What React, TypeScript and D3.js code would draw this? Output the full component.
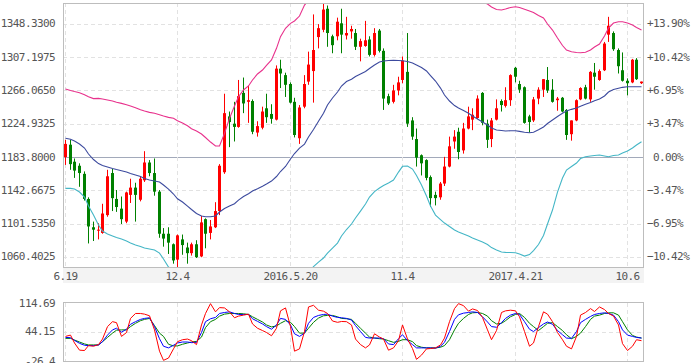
import React, { useEffect, useRef } from 'react';
import * as d3 from 'd3';

// weekly candles, 2015.6.19 .. 2017.10.27
const openP = [
  1183.8, 1199, 1178, 1173, 1163, 1132, 1097, 1093, 1090, 1112,
  1164, 1132, 1120, 1104, 1137, 1146, 1131, 1155, 1177, 1164,
  1141, 1089, 1089, 1076, 1057, 1082, 1072, 1065, 1076, 1061,
  1107, 1090, 1097, 1117, 1165, 1234, 1225, 1221, 1263, 1252,
  1253, 1214, 1220, 1244, 1237, 1230, 1293, 1285, 1274, 1252,
  1207, 1246, 1277, 1290, 1332, 1341, 1367, 1333, 1333, 1349,
  1334, 1339, 1337, 1320, 1321, 1329, 1310, 1340, 1315, 1259,
  1252, 1266, 1279, 1289, 1229, 1206, 1186, 1180, 1159, 1137,
  1134, 1151, 1172, 1203, 1215, 1192, 1219, 1230, 1232, 1263,
  1225, 1206, 1230, 1253, 1247, 1254, 1294, 1274, 1270, 1234,
  1229, 1256, 1267, 1279, 1267, 1254, 1257, 1242, 1212, 1229,
  1255, 1270, 1255, 1288, 1279, 1291, 1335, 1337, 1316, 1291,
  1278, 1276, 1304, 1275,
];
const highP = [
  1205, 1205, 1182, 1176, 1166, 1134, 1104, 1102, 1126, 1168,
  1169, 1143, 1135, 1141, 1157, 1152, 1160, 1191, 1180, 1182,
  1143, 1096, 1097, 1077, 1088, 1088, 1078, 1078, 1081, 1111,
  1108, 1106, 1128, 1175, 1262, 1240, 1252, 1279, 1282, 1272,
  1255, 1228, 1246, 1262, 1249, 1297, 1304, 1288, 1276, 1257,
  1248, 1285, 1314, 1360, 1348, 1375, 1371, 1335, 1356, 1367,
  1357, 1346, 1342, 1330, 1352, 1333, 1343, 1342, 1318, 1262,
  1273, 1283, 1308, 1337, 1233, 1219, 1187, 1181, 1161, 1141,
  1153, 1184, 1209, 1217, 1220, 1226, 1246, 1244, 1260, 1264,
  1230, 1232, 1255, 1255, 1270, 1286, 1295, 1278, 1271, 1236,
  1258, 1270, 1280, 1295, 1280, 1258, 1258, 1243, 1229, 1255,
  1270, 1273, 1290, 1300, 1292, 1326, 1357, 1339, 1318, 1313,
  1281, 1305, 1306, 1277,
];
const lowP = [
  1174, 1168, 1158, 1147, 1130, 1077, 1080, 1082, 1089, 1110,
  1117, 1116, 1101, 1102, 1127, 1104, 1129, 1153, 1160, 1136,
  1084, 1073, 1064, 1052, 1047, 1063, 1052, 1062, 1059, 1060,
  1071, 1082, 1096, 1112, 1163, 1196, 1203, 1220, 1238, 1226,
  1212, 1209, 1218, 1226, 1225, 1229, 1269, 1258, 1250, 1208,
  1200, 1244, 1273, 1251, 1318, 1338, 1320, 1312, 1328, 1312,
  1329, 1330, 1316, 1302, 1320, 1308, 1308, 1313, 1242, 1248,
  1250, 1260, 1275, 1221, 1205, 1172, 1161, 1155, 1122, 1124,
  1131, 1148, 1171, 1194, 1181, 1188, 1218, 1217, 1231, 1223,
  1195, 1196, 1229, 1240, 1245, 1247, 1276, 1263, 1225, 1214,
  1227, 1249, 1258, 1263, 1251, 1241, 1239, 1205, 1204, 1228,
  1254, 1255, 1252, 1267, 1278, 1290, 1326, 1315, 1287, 1277,
  1260, 1275, 1279, 1274,
];
const closeP = [
  1200, 1175, 1167, 1164, 1132, 1098, 1094, 1094, 1114, 1160,
  1133, 1122, 1107, 1140, 1146, 1137, 1157, 1177, 1164, 1141,
  1089, 1083, 1078, 1056, 1087, 1075, 1065, 1076, 1060, 1103,
  1089, 1098, 1117, 1173, 1238, 1227, 1221, 1259, 1250, 1254,
  1215, 1222, 1240, 1233, 1231, 1293, 1287, 1273, 1251, 1211,
  1245, 1274, 1298, 1316, 1343, 1366, 1337, 1322, 1351, 1335,
  1337, 1342, 1320, 1327, 1328, 1310, 1337, 1315, 1256, 1250,
  1266, 1276, 1303, 1225, 1209, 1183, 1176, 1158, 1133, 1133,
  1151, 1172, 1197, 1209, 1190, 1219, 1234, 1236, 1256, 1226,
  1205, 1229, 1244, 1248, 1254, 1285, 1283, 1267, 1226, 1227,
  1255, 1267, 1280, 1266, 1252, 1256, 1240, 1211, 1229, 1254,
  1269, 1256, 1289, 1283, 1290, 1324, 1346, 1317, 1296, 1278,
  1275, 1304, 1280, 1277,
];

// bollinger bands
const upperBand = [
  1267.8, 1266, 1264.7, 1263.3, 1260.8, 1258.3, 1256, 1256.3, 1255.5, 1254.2,
  1253, 1251.4, 1250.1, 1248.4, 1246.8, 1244.7, 1242.2, 1240.6, 1239, 1237.8,
  1236, 1234.4, 1232.8, 1231.6, 1228.6, 1225.8, 1222.4, 1218.7, 1216, 1212.2,
  1207.9, 1202.3, 1197.4, 1197.4, 1213, 1231.6, 1246.8, 1258.3, 1266.6, 1271.6,
  1279, 1286.4, 1291.3, 1297.1, 1303.7, 1318.1, 1332.5, 1342.8, 1349, 1351.9,
  1358, 1371.6, 1377, 1387.1, 1401.8, 1416.6, 1430.9, 1442.1, 1450.7, 1456.8,
  1460, 1458.6, 1458.2, 1455.8, 1453.1, 1451.9, 1453.9, 1456.9, 1456.2, 1454.4,
  1451.2, 1440.8, 1433.1, 1430.9, 1430.9, 1434.1, 1439.6, 1444.6, 1445.8, 1443.3,
  1431.5, 1418.6, 1408.1, 1401.2, 1397.5, 1394, 1389.4, 1385.1, 1380.2, 1375.3,
  1372.9, 1369.2, 1366.1, 1365.4, 1366.7, 1368.5, 1369.5, 1368.5, 1366.3, 1364.2,
  1362.3, 1358.6, 1355.6, 1348.1, 1340.7, 1330.8, 1321.6, 1316, 1313.9, 1312.9,
  1312.7, 1313.2, 1316, 1319.7, 1323.4, 1333.3, 1343.2, 1349.4, 1351, 1351,
  1349.4, 1346.9, 1343.8, 1340.7,
];
const midBand = [
  1206.9, 1205.7, 1203.6, 1199.8, 1194.9, 1187.5, 1180.7, 1175.7, 1173.3, 1171.4,
  1169.6, 1168.3, 1166.9, 1165.2, 1163.4, 1161.5, 1159.7, 1157.2, 1155.4, 1154.1,
  1152.9, 1149.2, 1144.2, 1138.1, 1132.2, 1128.2, 1123.2, 1118.9, 1114, 1110.9,
  1110, 1110, 1110.9, 1115.8, 1120.1, 1123.2, 1126.1, 1130.6, 1135, 1138.4,
  1141.8, 1144.6, 1147.7, 1150.4, 1154.1, 1159.7, 1165.9, 1172.1, 1181.3, 1188.1,
  1194.9, 1199.8, 1208.5, 1217.8, 1227.9, 1237.8, 1248, 1256.7, 1264.1, 1271.5,
  1277.1, 1279.8, 1283.3, 1286.4, 1289.4, 1293.1, 1297.5, 1301.2, 1302.4, 1303,
  1303.3, 1303, 1302.7, 1301.8, 1299.9, 1297.5, 1294.4, 1290.1, 1284.5, 1277.7,
  1269, 1260.4, 1253, 1247.4, 1244.3, 1241.3, 1237.8, 1234.4, 1230.7, 1227,
  1223.3, 1219.6, 1217.1, 1216.5, 1215.9, 1216.2, 1216.3, 1215.5, 1214.3, 1213.8,
  1214.4, 1217.4, 1220.9, 1225.2, 1229.5, 1233.8, 1237.8, 1240.6, 1242.7, 1244.3,
  1246.4, 1248.9, 1251.1, 1253.4, 1255.5, 1259.2, 1264.1, 1267.2, 1268.7, 1269.9,
  1270.7, 1270.7, 1270.7, 1270.7,
];
const lowerBand = [
  1145.1, 1145.1, 1144.2, 1140.5, 1134.3, 1123.2, 1112.1, 1099.7, 1092.3, 1088.6,
  1086.2, 1084.3, 1082.4, 1080, 1077.5, 1075, 1073.2, 1071.3, 1070.1, 1068.9,
  1065.1, 1057.7, 1047.8, 1044.6, 1035.8, 1030.6, 1024, 1019.1, 1012, 1009.6,
  1012.1, 1017.7, 1024.4, 1034.2, 1027.2, 1014.8, 1005.4, 1002.9, 1003.4, 1005.2,
  1004.6, 1002.8, 1004.1, 1003.7, 1004.5, 1001.3, 999.3, 1001.4, 1013.6, 1024.3,
  1031.8, 1028, 1040, 1048.5, 1054, 1059, 1065.1, 1071.3, 1077.5, 1086.2,
  1094.2, 1101, 1108.4, 1117, 1125.7, 1134.3, 1141.1, 1145.5, 1148.6, 1151.6,
  1155.4, 1165.2, 1172.3, 1172.7, 1168.9, 1160.9, 1149.2, 1135.6, 1123.2, 1112.1,
  1106.5, 1102.2, 1097.9, 1093.6, 1091.1, 1088.6, 1086.2, 1083.7, 1081.2, 1078.7,
  1075.7, 1071.9, 1068.9, 1066.4, 1066, 1065.8, 1065.5, 1063.9, 1061.4, 1063.3,
  1068.2, 1075.7, 1086.8, 1101, 1118.3, 1140.5, 1157.8, 1167.7, 1172, 1176.4,
  1181.9, 1184.1, 1185, 1185.6, 1186.2, 1185, 1184.1, 1185.6, 1186.2, 1188.7,
  1191.2, 1194.9, 1198.6, 1202.7,
];

// KDJ
const kLine = [
  31, 30.2, 23.8, 16.6, 11.9, 11.1, 11.1, 12.7, 20.6, 36.6,
  49.3, 53.3, 43.7, 50.9, 62.9, 69.3, 74.8, 77.2, 78.8, 57.3,
  27.8, 9.5, 5.5, 11.9, 17.4, 19.8, 19.8, 18.2, 19, 42.9,
  69.3, 76.4, 79.6, 89.2, 91.6, 93.2, 89.2, 86.8, 86.8, 86.8,
  76.4, 70.1, 63.7, 57.3, 50.9, 61.3, 77.2, 74.8, 61.3, 39.8,
  33.4, 41.4, 65.3, 79.6, 84.4, 86.8, 87.6, 82.8, 79.6, 78.8,
  77.2, 73.3, 59.7, 45.3, 31, 29.4, 29.4, 29.4, 27.8, 15.1,
  13.5, 27.8, 37.4, 23, 13.5, 5.5, 5.5, 5.5, 5.5, 4.7,
  9.5, 19, 45.3, 74.8, 86, 90, 91.6, 93.2, 91.6, 81.2,
  68.5, 57.3, 55.7, 66.9, 77.2, 85.2, 89.2, 86.8, 69.3, 50.9,
  45.3, 54.9, 63.7, 68.5, 62.9, 47.7, 37.4, 29.4, 28.6, 45.3,
  66.9, 74.8, 82, 86.8, 89.2, 90.8, 89.2, 85.2, 69.3, 49.3,
  36.6, 33.4, 31, 29.4,
];
const dLine = [
  28.6, 28.6, 24.6, 19.8, 15.1, 12.7, 12.7, 12.7, 20.6, 31,
  41.4, 48.5, 49.3, 49.3, 57.3, 65.3, 71.7, 74.8, 77.2, 59.7,
  41.4, 33.4, 14.3, 10.3, 10.3, 14.3, 17.4, 19.8, 21.4, 31.8,
  54.9, 69.3, 74.8, 82.8, 87.6, 89.2, 89.2, 89.2, 88.4, 86.8,
  81.2, 74.8, 68.5, 61.3, 56.5, 58.9, 65.3, 71.7, 67.7, 57.3,
  41.4, 41.4, 53.3, 67.7, 78, 83.6, 84.4, 84.4, 81.2, 77.2,
  76.4, 74.8, 65.3, 53.3, 41.4, 31.8, 29.4, 27.8, 27, 23,
  19, 21.4, 25.4, 25.4, 20.6, 11.1, 7.1, 5.5, 5.5, 5.5,
  7.1, 11.1, 25.4, 49.3, 65.3, 77.2, 86.8, 90.8, 91.6, 89.2,
  82.8, 71.7, 63.7, 65.3, 71.7, 81.2, 86.8, 89.2, 79.6, 65.3,
  57.3, 47.7, 57.3, 65.3, 66.9, 57.3, 47.7, 37.4, 27.8, 33.4,
  41.4, 57.3, 74.8, 82.8, 85.2, 89.2, 90.8, 90.8, 85.2, 69.3,
  49.3, 35.8, 31.8, 29.4,
];
const jLine = [
  33.4, 36.6, 17.4, 0, -0.9, 11.1, 9.5, 13.5, 27, 57.3,
  69.3, 66.9, 33.4, 42.9, 77.2, 89.2, 89.2, 87.6, 83.6, 49.3,
  -2.5, -24.8, -19.2, 3.1, 20.6, 25.4, 27, 23, 13.5, 61.3,
  89.2, 113.1, 93.2, 103.5, 102.7, 93.2, 78.8, 82.8, 85.2, 87.6,
  63.7, 53.3, 47.7, 42.9, 35, 53.3, 95.6, 102.7, 57.3, -2.5,
  3.1, 45.3, 105.1, 109.1, 97.2, 94.8, 89.2, 70.9, 67.7, 69.7,
  69.3, 61.3, 27, 13.5, 5.5, 12.7, 39.8, 31.8, 27, -0.1,
  5.5, 23, 61.3, 27, 3.9, -22.4, -12, 3.1, 3.9, 5.5,
  12.7, 29.4, 69.3, 101.1, 113.1, 108.3, 94.8, 100.3, 96.4, 79.6,
  49.3, 25.4, 47.7, 91.6, 95.6, 97.2, 95.6, 81.2, 45.3, 9.5,
  17.4, 57.3, 93.2, 87.6, 69.3, 42.9, 25.4, 9.5, 3.1, 33.4,
  85.2, 91.6, 101.1, 94, 105.1, 98.7, 89.2, 82.8, 61.3, 15.9,
  -0.9, 9.5, 25.4, 23,
];

const basePrice = 1183.8;
const priceTicks = [1348.33, 1307.1975, 1266.065, 1224.9325, 1183.8, 1142.6675, 1101.535, 1060.4025];
const dateTickIdx = [0, 24, 48, 72, 96, 120];
const dateTickLabels = ['6.19', '12.4', '2016.5.20', '11.4', '2017.4.21', '10.6'];
const kdjTicks = [114.69, 44.15, -26.4];

const FONT = '"DejaVu Sans Mono", monospace';

function App() {
  const svgRef = useRef<SVGSVGElement>(null);

  useEffect(() => {
    const svg = d3.select(svgRef.current);
    svg.selectAll('*').remove();

    const left = 63, right = 644, top = 3, bottom = 267;
    const kTop = 303, kBottom = 361;

    const idx = d3.range(closeP.length);
    const x = d3.scaleBand<number>().domain(idx).range([left, right]);
    const col = (i: number) => Math.round(x(i)! + x.bandwidth() / 2 - 0.5);
    const cx = (i: number) => col(i) + 0.5;

    const y = d3.scaleLinear().domain([1047.9, 1374.1]).range([bottom, top]);
    const yk = d3.scaleLinear().domain([-26.4, 114.69]).range([kBottom, kTop]);

    const defs = svg.append('defs');
    defs.append('clipPath').attr('id', 'mainClip')
      .append('rect').attr('x', left).attr('y', top).attr('width', right - left).attr('height', bottom - top);
    defs.append('clipPath').attr('id', 'kdjClip')
      .append('rect').attr('x', left).attr('y', kTop).attr('width', right - left).attr('height', kBottom - kTop);

    // x label band
    svg.append('rect')
      .attr('x', left).attr('y', bottom + 1).attr('width', right - left).attr('height', 15)
      .attr('fill', '#f3f3f3');

    // horizontal grid
    svg.append('g').selectAll('line')
      .data(priceTicks)
      .join('line')
      .attr('x1', left).attr('x2', right)
      .attr('y1', (d) => Math.round(y(d)) + 0.5)
      .attr('y2', (d) => Math.round(y(d)) + 0.5)
      .attr('stroke', (d) => (d === basePrice ? '#a2a9ba' : '#e2e2e2'))
      .attr('stroke-dasharray', (d) => (d === basePrice ? null : '4,3'));

    // vertical grid
    const vg = svg.append('g');
    [[top, bottom], [kTop, kBottom]].forEach(([a, b]) => {
      vg.append('g').selectAll('line')
        .data(dateTickIdx)
        .join('line')
        .attr('x1', cx).attr('x2', cx)
        .attr('y1', a).attr('y2', b)
        .attr('stroke', '#e2e2e2')
        .attr('stroke-dasharray', '4,3');
    });

    svg.append('line')
      .attr('x1', left).attr('x2', right)
      .attr('y1', Math.round(yk(44.15)) + 0.5).attr('y2', Math.round(yk(44.15)) + 0.5)
      .attr('stroke', '#e2e2e2').attr('stroke-dasharray', '4,3');

    // candles
    const candles = svg.append('g').attr('clip-path', 'url(#mainClip)');
    const up = (i: number) => closeP[i] >= openP[i];
    candles.selectAll('line')
      .data(idx)
      .join('line')
      .attr('x1', cx).attr('x2', cx)
      .attr('y1', (i) => y(highP[i])).attr('y2', (i) => y(lowP[i]))
      .attr('stroke', (i) => (up(i) ? '#ff0000' : '#008000'));
    candles.selectAll('rect')
      .data(idx)
      .join('rect')
      .attr('x', (i) => col(i) - 1)
      .attr('width', 3)
      .attr('y', (i) => y(Math.max(openP[i], closeP[i])))
      .attr('height', (i) => Math.max(1, Math.abs(y(openP[i]) - y(closeP[i]))))
      .attr('fill', (i) => (up(i) ? '#ff0000' : '#008000'));

    // bands
    const bands = svg.append('g').attr('clip-path', 'url(#mainClip)');
    const bandSet: [number[], string][] = [
      [upperBand, '#e8318c'],
      [midBand, '#3c4a9e'],
      [lowerBand, '#44b6c6'],
    ];
    bandSet.forEach(([vals, color]) => {
      const ln = d3.line<number>().x((d, i) => cx(i)).y((d) => y(d));
      bands.append('path')
        .attr('d', ln(vals))
        .attr('fill', 'none')
        .attr('stroke', color)
        .attr('stroke-width', 1.1);
    });

    // kdj
    const kdj = svg.append('g').attr('clip-path', 'url(#kdjClip)');
    const kdjSet: [number[], string][] = [
      [dLine, '#008000'],
      [kLine, '#0000ff'],
      [jLine, '#ff0000'],
    ];
    kdjSet.forEach(([vals, color]) => {
      const ln = d3.line<number>().x((d, i) => cx(i)).y((d) => yk(d));
      kdj.append('path')
        .attr('d', ln(vals))
        .attr('fill', 'none')
        .attr('stroke', color)
        .attr('stroke-width', 1);
    });

    // frames
    svg.append('rect')
      .attr('x', left + 0.5).attr('y', top + 0.5)
      .attr('width', right - left - 1).attr('height', bottom - top)
      .attr('fill', 'none').attr('stroke', '#bdbdbd');
    svg.append('rect')
      .attr('x', left + 0.5).attr('y', kTop - 0.5)
      .attr('width', right - left - 1).attr('height', kBottom - kTop + 1)
      .attr('fill', 'none').attr('stroke', '#bdbdbd');

    const txt = (g: d3.Selection<SVGGElement, unknown, null, undefined>) =>
      g.attr('font-family', FONT).attr('font-size', 11).attr('fill', '#555').attr('letter-spacing', -0.6);

    // left price labels
    svg.append('g').call(txt).selectAll('text')
      .data(priceTicks)
      .join('text')
      .attr('x', 55).attr('y', (d) => y(d))
      .attr('text-anchor', 'end')
      .attr('dominant-baseline', 'central')
      .text((d) => d3.format('.4f')(d));

    // right percent labels
    const pct = (d: number) => {
      const p = (d / basePrice - 1) * 100;
      if (Math.abs(p) < 0.005) return '0.00%';
      return (p > 0 ? '+' : '') + d3.format('.2f')(p) + '%';
    };
    svg.append('g').call(txt).selectAll('text')
      .data(priceTicks)
      .join('text')
      .attr('x', 647).attr('y', (d) => y(d))
      .attr('dominant-baseline', 'central')
      .text((d) => (d === basePrice ? '\u00a0' : '') + pct(d))
      .attr('xml:space', 'preserve');

    // date labels
    svg.append('g').call(txt).selectAll('text')
      .data(dateTickIdx)
      .join('text')
      .attr('x', cx).attr('y', 276)
      .attr('text-anchor', 'middle')
      .attr('dominant-baseline', 'central')
      .text((d, i) => dateTickLabels[i]);

    // kdj labels
    svg.append('g').call(txt).selectAll('text')
      .data(kdjTicks)
      .join('text')
      .attr('x', 55).attr('y', (d) => yk(d))
      .attr('text-anchor', 'end')
      .attr('dominant-baseline', 'central')
      .text((d) => String(d));
  }, []);

  return (
    <svg
      ref={svgRef}
      width={691}
      height={363}
      style={{ position: 'absolute', left: 0, top: 0, display: 'block', background: '#fff' }}
    />
  );
}

export default App;
